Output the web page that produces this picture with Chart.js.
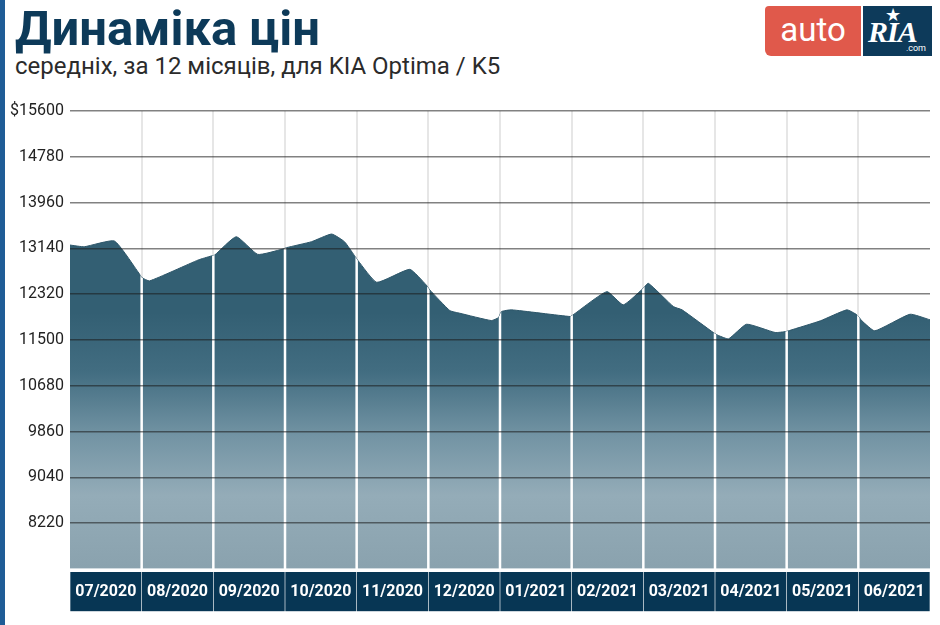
<!DOCTYPE html>
<html>
<head>
<meta charset="utf-8">
<script src="https://cdn.jsdelivr.net/npm/chart.js@4.4.0/dist/chart.umd.min.js"></script>
<style>
  body { margin: 0; width: 940px; height: 625px; background: #fff; position: relative; overflow: hidden; font-family: Roboto, "Noto Sans", sans-serif; }
  .bar { position: absolute; left: 0; top: 0; width: 5px; height: 625px; background: #1f5c96; }
  h1 { position: absolute; left: 15px; top: 0px; margin: 0; font: bold 49px Roboto, sans-serif; color: #0d3a59; }
  .sub { position: absolute; left: 15px; top: 52px; font: 24px Roboto, sans-serif; color: #2b2b2b; }
  .logo-a { position: absolute; left: 765px; top: 6px; width: 96px; height: 50px; background: #e0594b; border-radius: 4px 0 0 6px; color: #fff; font: 33px Roboto, sans-serif; text-align: center; line-height: 48px; }
  .logo-r { position: absolute; left: 863px; top: 6px; width: 69px; height: 50px; background: #0d3a5a; color: #fff; }
  .logo-r .ria { position: absolute; left: 5px; top: 9px; font: bold italic 30px "Liberation Serif", serif; letter-spacing: -1px; }
  .logo-r .star { position: absolute; left: 22px; top: -2px; font-size: 18px; }
  .logo-r .com { position: absolute; right: 6px; top: 37px; font: 9px Roboto, sans-serif; }
  .wrap { position: absolute; left: 6px; top: 90px; width: 934px; height: 535px; }
</style>
</head>
<body>
<div class="bar"></div>
<h1>Динаміка цін</h1>
<div class="sub">середніх, за 12 місяців, для KIA Optima / K5</div>
<div class="logo-a">auto</div>
<div class="logo-r"><span class="star">★</span><span class="ria">RIA</span><span class="com">.com</span></div>
<div class="wrap"><canvas id="myChart"></canvas></div>
<script>
// month labels under the chart
var months = ["07/2020", "08/2020", "09/2020", "10/2020", "11/2020", "12/2020",
              "01/2021", "02/2021", "03/2021", "04/2021", "05/2021", "06/2021"];

// position along the year (0 = start of 07/2020, 12 = end of 06/2021)
var pointPos = [0.0, 0.2, 0.62, 0.96, 1.0, 1.11, 1.79, 1.97, 2.02, 2.32, 2.62, 2.97,
                3.02, 3.37, 3.65, 3.83, 3.97, 4.02, 4.28, 4.74, 4.97, 5.02, 5.30, 5.44,
                5.88, 5.98, 6.02, 6.16, 6.98, 7.02, 7.49, 7.72, 7.99, 8.07, 8.42, 8.54,
                8.99, 9.05, 9.19, 9.44, 9.84, 9.99, 10.04, 10.47, 10.84, 10.98, 11.05, 11.23,
                11.72, 12.0];

// average price, USD
var prices = [13200, 13170, 13272, 12700, 12620, 12558, 12933, 13004, 13022, 13349, 13033, 13129,
              13153, 13260, 13397, 13260, 13010, 12920, 12533, 12765, 12486, 12397, 12027, 11979,
              11848, 11902, 12009, 12040, 11920, 11950, 12366, 12129, 12415, 12515, 12098, 12040,
              11621, 11580, 11521, 11782, 11634, 11652, 11670, 11843, 12040, 11950, 11843, 11664,
              11961, 11861];

var yMin = 7400, yMax = 15600, yStep = 820;

var points = pointPos.map(function (p, i) { return { x: p, y: prices[i] }; });

// white month separators, only inside the filled area
var separators = {
  id: 'separators',
  afterDatasetsDraw: function (chart) {
    var ctx = chart.ctx, a = chart.chartArea, sx = chart.scales.x2;
    var line = chart.getDatasetMeta(0).dataset;
    ctx.save();
    ctx.beginPath();
    line.path(ctx);
    ctx.lineTo(a.right, a.bottom);
    ctx.lineTo(a.left, a.bottom);
    ctx.closePath();
    ctx.clip();
    ctx.strokeStyle = '#ffffff';
    ctx.lineWidth = 2.5;
    for (var i = 1; i < months.length; i++) {
      var px = sx.getPixelForValue(i);
      ctx.beginPath();
      ctx.moveTo(px, a.top);
      ctx.lineTo(px, a.bottom);
      ctx.stroke();
    }
    ctx.restore();
  }
};

var ctx = document.getElementById('myChart');
new Chart(ctx, {
  type: 'line',
  data: {
    datasets: [{
      data: points,
      fill: 'start',
      tension: 0.15,
      pointRadius: 0,
      borderWidth: 1,
      borderColor: '#2d5669',
      backgroundColor: function (c) {
        var a = c.chart.chartArea;
        if (!a) return '#335f73';
        var g = c.chart.ctx.createLinearGradient(0, a.top, 0, a.bottom);
        g.addColorStop(0, '#335f73');
        g.addColorStop(0.44, '#335f73');
        g.addColorStop(0.57, '#426d81');
        g.addColorStop(0.71, '#7394a4');
        g.addColorStop(0.84, '#94acb8');
        g.addColorStop(1, '#8aa2ae');
        return g;
      }
    }]
  },
  options: {
    responsive: true,
    maintainAspectRatio: false,
    animation: false,
    layout: { padding: { top: 21, right: 10, bottom: 0, left: 0 } },
    plugins: { legend: { display: false }, tooltip: { enabled: false } },
    scales: {
      x: {
        type: 'linear',
        min: 0,
        max: 12,
        afterBuildTicks: function (axis) {
          axis.ticks = months.map(function (m, i) { return { value: i + 0.5 }; });
        },
        afterFit: function (s) { s.height = 56; },
        grid: { display: false },
        border: { display: false },
        ticks: {
          autoSkip: false,
          maxRotation: 0,
          padding: 5,
          color: '#ffffff',
          font: { family: 'Roboto', size: 16, weight: 'bold' },
          showLabelBackdrop: true,
          backdropColor: '#073654',
          backdropPadding: { left: 5, right: 5, top: 10, bottom: 10 },
          callback: function (v, i) { return months[i]; }
        }
      },
      x2: {
        type: 'linear',
        position: 'bottom',
        min: 0,
        max: 12,
        afterFit: function (s) { s.height = 0; },
        ticks: { display: false, stepSize: 1 },
        border: { display: false },
        grid: {
          drawTicks: false,
          lineWidth: 2,
          color: function (c) {
            return (c.tick.value === 0 || c.tick.value === 12) ? 'rgba(0,0,0,0)' : '#e6e6e6';
          }
        }
      },
      y: {
        min: yMin,
        max: yMax,
        afterFit: function (s) { s.width = 64; },
        border: { display: false },
        grid: {
          z: 1,
          drawTicks: false,
          lineWidth: 1.5,
          color: function (c) {
            return c.tick.value === yMin ? 'rgba(255,255,255,0.6)' : 'rgba(25,25,25,0.55)';
          }
        },
        ticks: {
          stepSize: yStep,
          padding: 6,
          color: '#222',
          font: { family: 'Roboto', size: 16 },
          callback: function (v) {
            if (v === yMin) return '';
            return v === yMax ? '$' + v : String(v);
          }
        }
      }
    }
  },
  plugins: [separators]
});
</script>
</body>
</html>
